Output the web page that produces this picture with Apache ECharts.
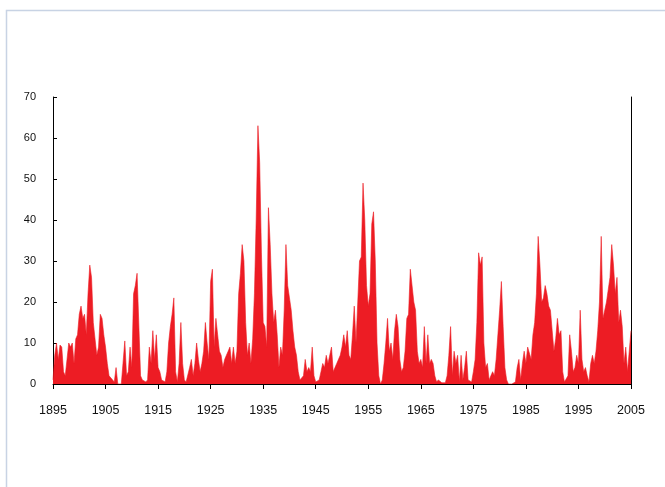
<!DOCTYPE html>
<html>
<head>
<meta charset="utf-8">
<script src="https://cdn.jsdelivr.net/npm/echarts@6/dist/echarts.min.js"></script>
<style>
  html, body { margin: 0; padding: 0; background: #fff; }
  #chart { width: 665px; height: 487px; }
</style>
</head>
<body>
<div id="chart"></div>
<script>
// readings every 4 months (1/3 year), one array per decade
var startYear = 1895;
var stepYears = 1 / 3;

var d1895 = [1, 7, 10, 6, 9.5, 9, 3, 2, 6, 10, 9, 10, 5, 11, 12, 17, 19, 16, 17, 12, 22, 29, 26, 15, 11, 7, 9, 17, 16, 12];
var d1905 = [9, 5, 2, 1.5, 1.5, 0.5, 4, 0, 0, 0, 0, 10.5, 2, 3, 9, 4, 22, 24, 27, 27, 2, 1, 1, 0.5, 1, 9, 5, 13, 6, 12];
var d1915 = [4, 3, 1, 1, 0.5, 3, 10, 14, 17, 21, 3, 0.5, 5, 15, 5, 1, 0.5, 0.5, 4, 6, 2, 5, 10, 6, 3, 5, 8, 15, 10, 6];
var d1925 = [25, 28, 9, 16, 12, 8, 7, 4, 6, 7, 8, 9, 5, 9, 5, 8, 22, 27, 34, 30, 15, 7, 10, 5, 11, 22, 40, 63, 54, 32];
var d1935 = [15, 14, 9, 43, 34, 22, 15, 18, 12, 4, 9, 7, 18, 34, 24, 21, 18, 13, 9, 7, 3, 1, 1, 2, 6, 3, 4, 3, 9, 2];
var d1945 = [0.5, 0.3, 1, 3, 5, 4, 7, 5, 5, 9, 3, 4, 5, 5, 7, 9, 12, 9, 13, 7, 6, 12, 19, 10, 20, 30, 31, 49, 40, 24];
var d1955 = [19, 22, 39, 42, 30, 10, 2, 0, 1, 5, 10, 16, 8, 10, 6, 13, 17, 14, 6, 3, 4, 8, 16, 17, 28, 28, 20, 18, 8, 5];
var d1965 = [6, 4, 14, 5, 12, 5, 6, 5, 2, 0.5, 1, 1, 0.3, 0.3, 0.3, 2, 7, 14, 2, 8, 5, 7, 0.5, 7, 1, 4, 8, 1, 1, 0.5];
var d1975 = [3, 6, 15, 32, 29, 31, 10, 4, 5, 1, 2, 3, 2, 6, 12, 18, 25, 14, 4, 1, 0, 0, 0, 0, 0.5, 4, 6, 1, 5, 8];
var d1985 = [5, 9, 9, 6, 12, 15, 22, 36, 29, 20, 21, 24, 22, 19, 18, 13, 8, 11, 16, 12, 13, 3, 0.5, 0.5, 2, 12, 8, 3, 4, 7];
var d1995 = [5, 18, 6, 3, 4, 2, 0.5, 5, 7, 5, 8, 13, 20, 36, 16, 18, 20, 23, 26, 34, 29, 22, 26, 15, 18, 14, 5, 9, 3, 8, 13];

var tickYears = [1895, 1905, 1915, 1925, 1935, 1945, 1955, 1965, 1975, 1985, 1995, 2005];

var values = [].concat(d1895, d1905, d1915, d1925, d1935, d1945, d1955, d1965, d1975, d1985, d1995);
var seriesData = values.map(function (v, i) {
    return [startYear + i * stepYears, v];
});

var myChart = echarts.init(document.getElementById('chart'));

var option = {
    backgroundColor: '#fff',
    animation: false,
    graphic: [{
        type: 'rect',
        shape: { x: 6.5, y: 10.5, width: 700, height: 600 },
        style: { fill: 'none', stroke: '#c8d3e4', lineWidth: 1.5 },
        silent: true
    }],
    grid: { left: 53, right: 34, top: 97, bottom: 103 },
    xAxis: {
        type: 'value',
        min: 1895,
        max: 2005,
        axisLine: { lineStyle: { color: '#000', width: 1 } },
        axisTick: { show: true, inside: false, length: 5, customValues: tickYears, lineStyle: { color: '#000' } },
        axisLabel: {
            customValues: tickYears,
            formatter: function (v) { return String(v); },
            color: '#111',
            fontSize: 12.5,
            fontFamily: 'Liberation Sans, Arial, sans-serif',
            margin: 20
        },
        splitLine: { show: false }
    },
    yAxis: [{
        type: 'value',
        min: 0,
        max: 70,
        interval: 10,
        axisLine: { show: true, lineStyle: { color: '#000', width: 1 } },
        axisTick: { show: true, inside: true, length: 4, lineStyle: { color: '#000' } },
        axisLabel: {
            color: '#111',
            fontSize: 11,
            fontFamily: 'Liberation Sans, Arial, sans-serif',
            margin: 17
        },
        splitLine: { show: false }
    }, {
        type: 'value',
        position: 'right',
        min: 0,
        max: 70,
        axisLine: { show: true, lineStyle: { color: '#000', width: 1 } },
        axisTick: { show: false },
        axisLabel: { show: false },
        splitLine: { show: false }
    }],
    series: [{
        type: 'line',
        data: seriesData,
        symbol: 'none',
        sampling: false,
        lineStyle: { color: '#ed1c24', width: 0.6 },
        areaStyle: { color: '#ed1c24', opacity: 1 }
    }]
};

myChart.setOption(option);
</script>
</body>
</html>
